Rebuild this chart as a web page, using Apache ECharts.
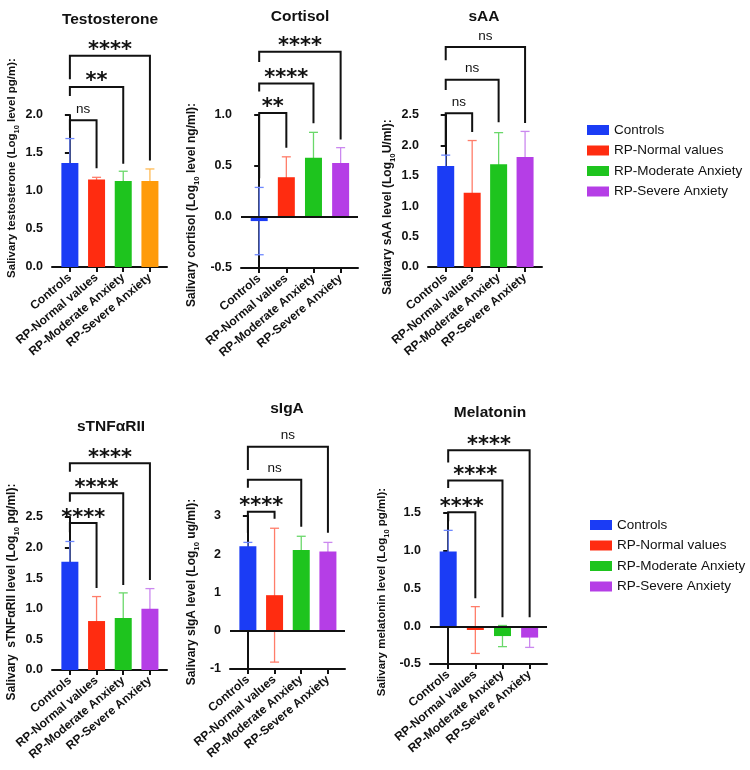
<!DOCTYPE html>
<html>
<head>
<meta charset="utf-8">
<title>Salivary markers</title>
<script src="https://cdn.jsdelivr.net/npm/echarts@6/dist/echarts.min.js"></script>
<style>
html, body { margin: 0; padding: 0; background: #fff; }
#chart { width: 750px; height: 770px; }
</style>
</head>
<body>
<div id="chart"></div>
<script>
var groups = ["Controls", "RP-Normal values", "RP-Moderate Anxiety", "RP-Severe Anxiety"];

// mean and SD of each group (log10 units)
var testosteroneMean = [1.37, 1.15, 1.13, 1.13];
var testosteroneSd = [0.32, 0.03, 0.13, 0.16];
var cortisolMean = [-0.04, 0.39, 0.58, 0.53];
var cortisolSd = [0.33, 0.20, 0.25, 0.15];
var saaMean = [1.66, 1.22, 1.69, 1.81];
var saaSd = [0.18, 0.86, 0.52, 0.42];
var tnfMean = [1.77, 0.80, 0.85, 1.00];
var tnfSd = [0.33, 0.40, 0.41, 0.33];
var igaMean = [2.21, 0.93, 2.11, 2.07];
var igaSd = [0.10, 1.75, 0.36, 0.24];
var melatoninMean = [0.99, -0.05, -0.13, -0.15];
var melatoninSd = [0.28, 0.31, 0.14, 0.13];

// brackets: [from group, to group, bracket level, left leg end, right leg end]
var testosteroneBrackets = [[0, 1, 1.93, 1.80, 1.30], [0, 2, 2.37, 2.25, 1.36], [0, 3, 2.78, 2.47, 1.40]];
var testosteroneSig = ["ns", "**", "****"];
var cortisolBrackets = [[0, 1, 1.02, 0.38, 0.68], [0, 2, 1.31, 1.23, 0.92], [0, 3, 1.62, 1.52, 0.76]];
var cortisolSig = ["**", "****", "****"];
var saaBrackets = [[0, 1, 2.53, 2.00, 2.22], [0, 2, 3.08, 2.91, 2.38], [0, 3, 3.62, 3.40, 2.37]];
var saaSig = ["ns", "ns", "ns"];
var tnfBrackets = [[0, 1, 2.40, 2.25, 1.34], [0, 2, 2.89, 2.75, 1.39], [0, 3, 3.38, 3.24, 1.47]];
var tnfSig = ["****", "****", "****"];
var igaBrackets = [[0, 1, 3.11, 2.56, 2.93], [0, 2, 3.95, 3.74, 2.72], [0, 3, 4.81, 4.20, 2.56]];
var igaSig = ["****", "ns", "ns"];
var melatoninBrackets = [[0, 1, 1.51, 1.39, 0.37], [0, 2, 1.93, 1.83, 0.12], [0, 3, 2.33, 2.17, 0.12]];
var melatoninSig = ["****", "****", "****"];

var blue = "#1b3cf5", red = "#ff2c10", green = "#1ec41e", purple = "#b53ee6", orange = "#ff9b0a";
var light = {};
light[blue] = "#6e88ff"; light[red] = "#ff7d6a"; light[green] = "#6ad86a";
light[purple] = "#cb88ef"; light[orange] = "#ffbb55";

var panels = [
    { title: "Testosterone", mean: testosteroneMean, sd: testosteroneSd, br: testosteroneBrackets, sig: testosteroneSig,
      colors: [blue, red, green, orange], min: 0, max: 2, step: 0.5, dec: 1,
      box: [52, 115, 115, 152], titleAt: [110, 20],
      yName: "Salivary testosterone (Log{s|10} level pg/m):", nameAt: [12, 168], nameSize: 11.5 },
    { title: "Cortisol", mean: cortisolMean, sd: cortisolSd, br: cortisolBrackets, sig: cortisolSig,
      colors: [blue, red, green, purple], min: -0.5, max: 1, step: 0.5, dec: 1,
      box: [241, 115, 117, 153], titleAt: [300, 17],
      yName: "Salivary cortisol (Log{s|10} level ng/ml):", nameAt: [192, 205], nameSize: 12 },
    { title: "sAA", mean: saaMean, sd: saaSd, br: saaBrackets, sig: saaSig,
      colors: [blue, red, green, purple], min: 0, max: 2.5, step: 0.5, dec: 1,
      box: [428, 115, 114, 152], titleAt: [484, 17],
      yName: "Salivary sAA level (Log{s|10}U/ml):", nameAt: [388, 207], nameSize: 12 },
    { title: "sTNFαRII", mean: tnfMean, sd: tnfSd, br: tnfBrackets, sig: tnfSig,
      colors: [blue, red, green, purple], min: 0, max: 2.5, step: 0.5, dec: 1,
      box: [52, 517, 115, 153], titleAt: [111, 427],
      yName: "Salivary  sTNFαRII level (Log{s|10} pg/ml):", nameAt: [12, 592], nameSize: 12 },
    { title: "sIgA", mean: igaMean, sd: igaSd, br: igaBrackets, sig: igaSig,
      colors: [blue, red, green, purple], min: -1, max: 3, step: 1, dec: 0,
      box: [230, 516, 115, 153], titleAt: [287, 409],
      yName: "Salivary sIgA level (Log{s|10} ug/ml):", nameAt: [192, 592], nameSize: 12 },
    { title: "Melatonin", mean: melatoninMean, sd: melatoninSd, br: melatoninBrackets, sig: melatoninSig,
      colors: [blue, red, green, purple], min: -0.5, max: 1.5, step: 0.5, dec: 1,
      box: [430, 513, 117, 151], titleAt: [490, 413],
      yName: "Salivary melatonin level (Log{s|10} pg/ml):", nameAt: [382, 592], nameSize: 11.5 }
];

var font = "Liberation Sans";
var ink = "#111";

var grids = [], xAxes = [], yAxes = [], series = [], graphics = [];

panels.forEach(function(p, k) {
    var b = p.box;
    grids.push({ left: b[0], top: b[1], width: b[2], height: b[3], containLabel: false });
    xAxes.push({
        type: "value", gridIndex: k, min: -0.67, max: 3.64,
        splitLine: { show: false },
        axisLine: { onZero: false, lineStyle: { color: ink, width: 2 } },
        axisTick: { customValues: [0, 1, 2, 3], length: 5, lineStyle: { color: ink, width: 2 } },
        axisLabel: {
            customValues: [0, 1, 2, 3], rotate: 40, margin: 9,
            fontFamily: font, fontWeight: "bold", fontSize: 12, color: ink,
            formatter: function(v) { return groups[Math.round(v)]; }
        }
    });
    yAxes.push({
        type: "value", gridIndex: k, min: p.min, max: p.max, interval: p.step,
        splitLine: { show: false },
        axisLine: { show: true, lineStyle: { color: ink, width: 2 } },
        axisTick: { show: true, length: 5, lineStyle: { color: ink, width: 2 } },
        axisLabel: {
            margin: 9, fontFamily: font, fontWeight: "bold", fontSize: 12.5, color: ink,
            formatter: function(v) { return v.toFixed(p.dec); }
        }
    });

    groups.forEach(function(g, i) {
        var s = {
            type: "bar", name: g, xAxisIndex: k, yAxisIndex: k,
            data: [[i, p.mean[i]]], barWidth: 17, barGap: "-100%", z: 3,
            itemStyle: { color: p.colors[i] }, animation: false
        };
        if (i === 0 && p.min < 0) {
            s.markLine = {
                silent: true, symbol: ["none", "none"], label: { show: false },
                lineStyle: { color: ink, width: 2, type: "solid" },
                data: [{ yAxis: 0 }], animation: false
            };
        }
        series.push(s);
    });

    // error bars (drawn under the bars)
    series.push({
        type: "custom", name: "sd" + k, xAxisIndex: k, yAxisIndex: k, z: 2, animation: false,
        data: p.mean.map(function(m, i) { return [i, m, p.sd[i]]; }),
        encode: { x: 0, y: 1 },
        renderItem: function(params, api) {
            var i = api.value(0), m = api.value(1), s = api.value(2);
            var hi = api.coord([i, m + s]), lo = api.coord([i, m - s]);
            var c = light[p.colors[params.dataIndex]];
            var st = { stroke: c, lineWidth: 1.3 };
            return { type: "group", children: [
                { type: "line", shape: { x1: hi[0], y1: hi[1], x2: lo[0], y2: lo[1] }, style: st },
                { type: "line", shape: { x1: hi[0] - 4.5, y1: hi[1], x2: hi[0] + 4.5, y2: hi[1] }, style: st },
                { type: "line", shape: { x1: lo[0] - 4.5, y1: lo[1], x2: lo[0] + 4.5, y2: lo[1] }, style: st }
            ] };
        }
    });

    // significance brackets
    series.push({
        type: "custom", name: "sig" + k, xAxisIndex: k, yAxisIndex: k, z: 4, clip: false, animation: false,
        data: p.br,
        encode: { x: [0, 1], y: [2, 3, 4] },
        renderItem: function(params, api) {
            var a = api.value(0), c = api.value(1), lv = api.value(2);
            var p0 = api.coord([a, api.value(3)]), p1 = api.coord([a, lv]),
                p2 = api.coord([c, lv]), p3 = api.coord([c, api.value(4)]);
            var txt = p.sig[params.dataIndex], star = txt !== "ns";
            return { type: "group", children: [
                { type: "polyline", shape: { points: [p0, p1, p2, p3] }, style: { stroke: ink, lineWidth: 2, fill: null } },
                { type: "text", x: (p1[0] + p2[0]) / 2, y: p1[1] - (star ? 5 : 11),
                  style: { text: txt, align: "center", verticalAlign: "middle", fill: ink,
                           fontFamily: star ? "DejaVu Sans" : font, fontWeight: star ? "bold" : "normal",
                           fontSize: star ? 21 : 13.5 } }
            ] };
        }
    });

    graphics.push({
        type: "text", x: p.titleAt[0], y: p.titleAt[1],
        style: { text: p.title, align: "center", verticalAlign: "middle", fill: ink,
                 fontFamily: font, fontWeight: "bold", fontSize: 15.5 }
    });
    graphics.push({
        type: "text", x: p.nameAt[0], y: p.nameAt[1], rotation: Math.PI / 2,
        style: { text: p.yName, align: "center", verticalAlign: "middle", fill: ink,
                 fontFamily: font, fontWeight: "bold", fontSize: p.nameSize, lineHeight: 17,
                 rich: { s: { fontFamily: font, fontWeight: "bold", fontSize: p.nameSize * 0.65,
                              verticalAlign: "bottom", lineHeight: 17, padding: [6, 0, 0, 0] } } }
    });
});

var legendData = [
    { name: groups[0], itemStyle: { color: blue } },
    { name: groups[1], itemStyle: { color: red } },
    { name: groups[2], itemStyle: { color: green } },
    { name: groups[3], itemStyle: { color: purple } }
];
var legendBase = {
    orient: "vertical", icon: "rect", itemWidth: 22, itemHeight: 10, itemGap: 6.5,
    selectedMode: false, data: legendData,
    textStyle: { fontFamily: font, fontSize: 13.5, color: ink }
};

var chart = echarts.init(document.getElementById("chart"), null, { renderer: "canvas" });
chart.setOption({
    backgroundColor: "#fff",
    animation: false,
    grid: grids,
    xAxis: xAxes,
    yAxis: yAxes,
    legend: [
        Object.assign({}, legendBase, { left: 582, top: 118 }),
        Object.assign({}, legendBase, { left: 585, top: 513 })
    ],
    graphic: graphics,
    series: series
});
</script>
</body>
</html>
